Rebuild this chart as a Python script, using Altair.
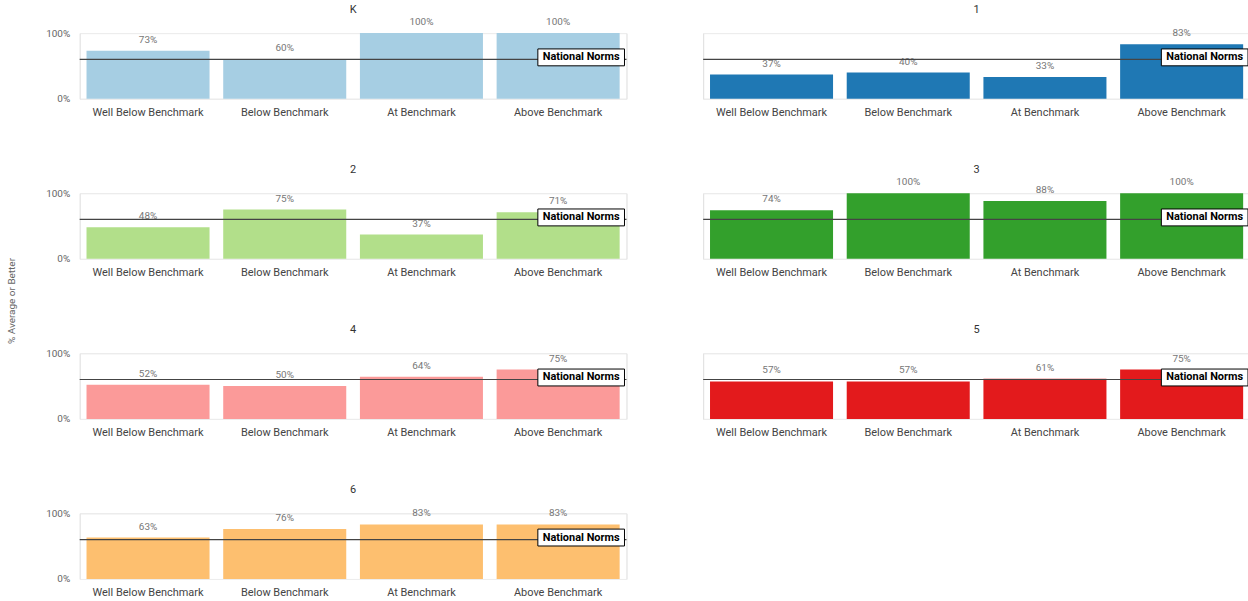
import altair as alt
import pandas as pd

# Benchmark groups shown along each panel's x axis
categories = ["Well Below Benchmark", "Below Benchmark", "At Benchmark", "Above Benchmark"]
grades = ["K", "1", "2", "3", "4", "5", "6"]

# Percent of students scoring average or better, per grade and benchmark group
pct_k = [73, 60, 100, 100]
pct_1 = [37, 40, 33, 83]
pct_2 = [48, 75, 37, 71]
pct_3 = [74, 100, 88, 100]
pct_4 = [52, 50, 64, 75]
pct_5 = [57, 57, 61, 75]
pct_6 = [63, 76, 83, 83]

national_norm = 60

series = [pct_k, pct_1, pct_2, pct_3, pct_4, pct_5, pct_6]
rows = []
for grade, vals in zip(grades, series):
    for cat, v in zip(categories, vals):
        rows.append({"grade": grade, "group": cat, "pct": v / 100,
                     "norm": national_norm / 100})
df = pd.DataFrame(rows)

W, H = 549, 66
FONT = "Roboto"

x_enc = alt.X("group:N", sort=categories, title=None,
              scale=alt.Scale(paddingInner=0.1, paddingOuter=0.05),
              axis=alt.Axis(labelAngle=0, labelFontSize=11, labelColor="#444",
                            ticks=False, domain=False, labelPadding=8,
                            labelFont=FONT))
y_enc = alt.Y("pct:Q", title=None,
              scale=alt.Scale(domain=[0, 1], nice=False),
              axis=alt.Axis(values=[0, 1], format=".0%", labelFontSize=10,
                            labelColor="#666", ticks=False, domain=False,
                            gridColor="#eeeeee", labelPadding=8,
                            labelFont=FONT))

bars = alt.Chart().mark_bar().encode(
    x=x_enc,
    y=y_enc,
    color=alt.Color("grade:N", sort=grades, legend=None,
                    scale=alt.Scale(scheme="paired")),
)

labels = alt.Chart().mark_text(baseline="middle", dy=-11, fontSize=10,
                               color="#777", font=FONT).encode(
    x=alt.X("group:N", sort=categories),
    y=alt.Y("pct:Q"),
    text=alt.Text("pct:Q", format=".0%"),
)

# invisible spacer at the top of every panel so all cells reserve the same headroom
headroom = alt.Chart().mark_text(baseline="middle", dy=-11, fontSize=10,
                                 text="100%", opacity=0).encode(
    x=alt.value(W / 2),
    y=alt.datum(1),
)

norm_rule = alt.Chart().mark_rule(color="#444", strokeWidth=1.2).encode(
    y=alt.Y("mean(norm):Q"),
)

norm_box = alt.Chart().mark_point(
    shape="M-1,-0.195H1V0.195H-1Z", size=87 * 87, filled=True,
    fill="white", stroke="black", strokeWidth=1, opacity=1, yOffset=-2,
).encode(
    x=alt.value(W - 45.5),
    y=alt.Y("mean(norm):Q"),
)

norm_text = alt.Chart().mark_text(
    text="National Norms", fontSize=11, fontWeight="bold", color="black",
    baseline="middle", dy=-2, font=FONT,
).encode(
    x=alt.value(W - 45.5),
    y=alt.Y("mean(norm):Q"),
)

panel = alt.layer(bars, labels, headroom, norm_rule, norm_box, norm_text).properties(
    width=W, height=H)

chart = panel.facet(
    facet=alt.Facet("grade:N", sort=grades,
                    header=alt.Header(title=None, labelFontSize=11,
                                      labelColor="#333", labelPadding=2,
                                      labelFont=FONT)),
    columns=2,
    data=df,
    spacing={"row": 44.7, "column": 73},
).resolve_axis(x="independent").properties(
    title=alt.TitleParams(text="% Average or Better", orient="left",
                          anchor="middle", fontSize=10, color="#666",
                          fontWeight="normal", font=FONT, offset=29),
).configure_view(strokeWidth=0, stroke="transparent").configure(
    padding={"left": 6, "top": 2, "right": -4, "bottom": 0})

chart.save("out.html", embed_options={"renderer": "svg", "actions": False})
